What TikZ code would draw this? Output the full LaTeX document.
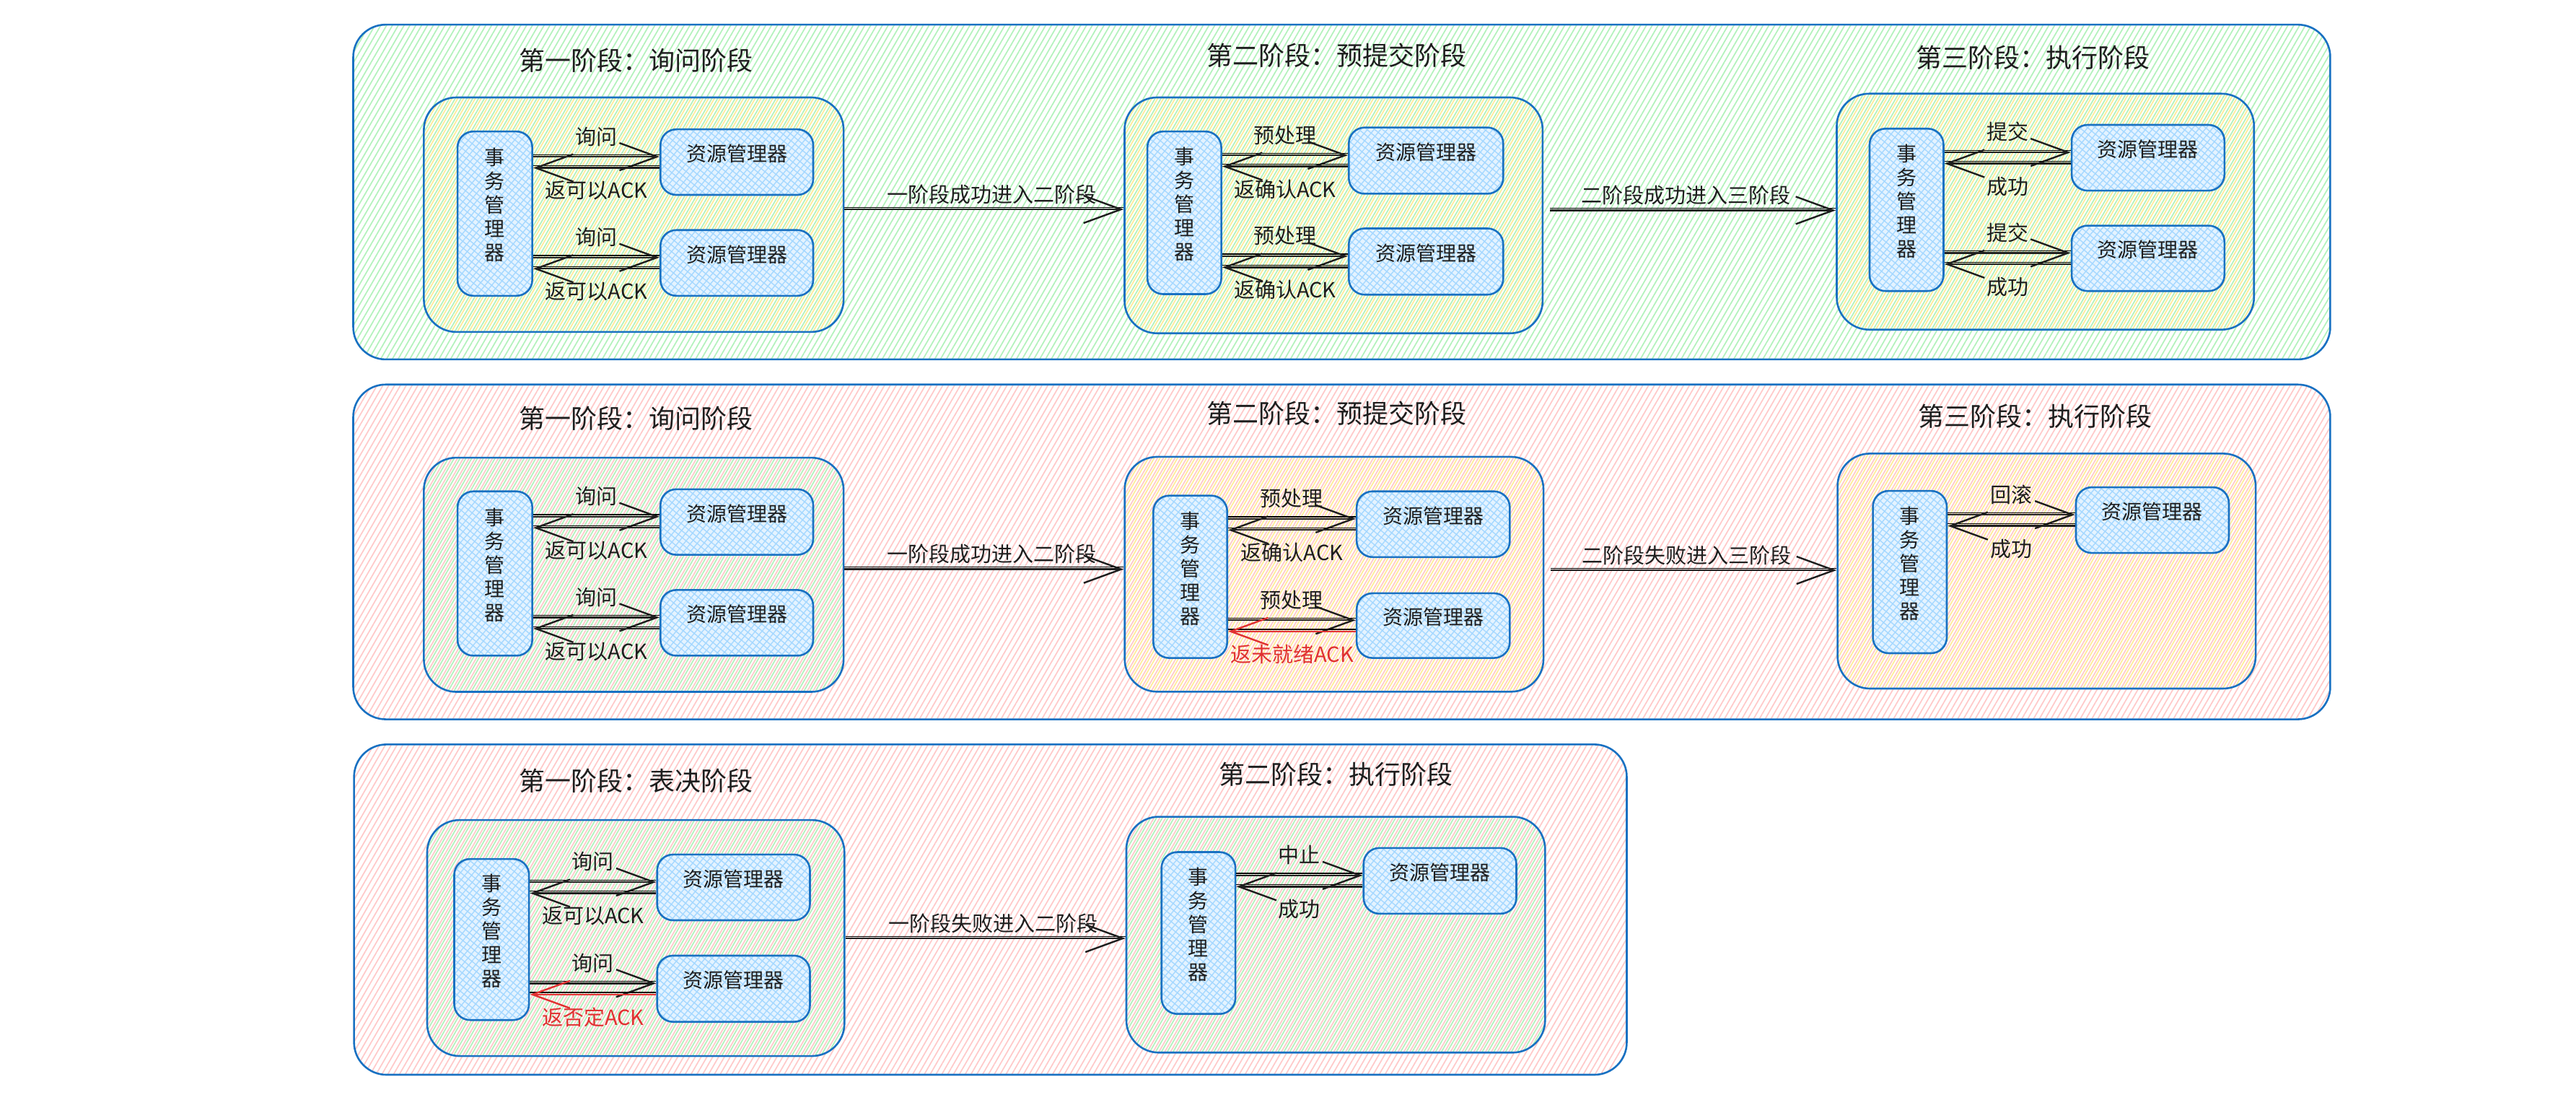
\documentclass[tikz,border=0pt]{standalone}
\usepackage{fontspec}
\setmainfont{Noto Sans CJK SC}
\usetikzlibrary{arrows.meta,patterns.meta,fit}
\definecolor{bblue}{HTML}{1971C2}
\definecolor{ink}{HTML}{1E1E1E}
\definecolor{redc}{HTML}{E03131}
\definecolor{hgreen}{HTML}{B2F2BB}
\definecolor{hpink}{HTML}{FFC9C9}
\definecolor{hyellow}{HTML}{FFEC99}
\definecolor{hblue}{HTML}{A5D8FF}
\tikzset{
 outerbox/.style={draw=bblue, line width=2.6pt, rounded corners=45pt, inner sep=0pt,
   preaction={fill=white},
   preaction={pattern={Lines[angle=60,distance=7pt,line width=1.7pt]}, pattern color=#1}},
 innerbox/.style={draw=bblue, line width=2.6pt, rounded corners=45pt, inner sep=0pt,
   preaction={pattern={Lines[angle=60,distance=7pt,line width=1.7pt,xshift=3.5pt]}, pattern color=#1}},
 unitbox/.style={draw=bblue, line width=2.6pt, rounded corners=22pt, inner sep=0pt,
   preaction={fill=hblue!30},
   preaction={pattern={Lines[angle=50,distance=7pt,line width=1.4pt]}, pattern color=hblue},
   preaction={pattern={Lines[angle=-40,distance=7pt,line width=1.4pt]}, pattern color=hblue},
   font=\fontsize{28}{33}\selectfont, text=ink, align=center},
 lbl/.style={font=\fontsize{29}{32}\selectfont, text=ink, inner sep=0pt},
 ttl/.style={font=\fontsize{36}{40}\selectfont, text=ink, inner sep=0pt},
 arr/.style={draw=ink, line width=2.4pt, -{Straight Barb[length=52pt,width=38pt]},
   preaction={draw, -, line width=1.2pt, transform canvas={yshift=2.8pt}}},
}
\newcommand\pairarrows[6]{%
 \coordinate (f#3) at ([yshift=7.5pt]#2.west);
 \coordinate (b#3) at ([yshift=-8pt]#2.west);
 \draw[arr] (#1.east |- f#3) -- (f#3) node[lbl, midway, above=13.5pt] (u#3) {#4};
 \draw[arr, draw=#6] (b#3) -- (#1.east |- b#3) node[lbl, midway, below=17pt, text=#6] (d#3) {#5};
}
\begin{document}
\begin{tikzpicture}[x=2.2768pt, y=-2.2768pt]
\useasboundingbox (0,0) rectangle (1568,669);

% ---------------- Row 1 ----------------
\node[outerbox=hgreen, fit={(215,15)(1418.4,218.7)}] (o1) {};
\node[ttl] (t11) at (387.3,36.6) {第一阶段：询问阶段};
\node[ttl] (t12) at (813.6,33.7) {第二阶段：预提交阶段};
\node[ttl] (t13) at (1237.5,35) {第三阶段：执行阶段};

\node[innerbox=hyellow, fit={(258,59.3)(513.5,202)}] (s11) {};
\node[innerbox=hyellow, fit={(684.5,59.3)(939,202.8)}] (s12) {};
\node[innerbox=hyellow, fit={(1118,57)(1372,200.6)}] (s13) {};

\node[unitbox, fit={(278.5,80)(324,180)}] (tm11) {事\\务\\管\\理\\器};
\node[unitbox, fit={(402,78.7)(495,118.6)}] (rm111) {资源管理器};
\node[unitbox, fit={(402,140)(495,180)}] (rm112) {资源管理器};

\node[unitbox, fit={(698.4,80)(743.4,179)}] (tm12) {事\\务\\管\\理\\器};
\node[unitbox, fit={(821,77.6)(915,117.9)}] (rm121) {资源管理器};
\node[unitbox, fit={(821,139)(915,179.3)}] (rm122) {资源管理器};

\node[unitbox, fit={(1138,78.3)(1183,177.1)}] (tm13) {事\\务\\管\\理\\器};
\node[unitbox, fit={(1261,76)(1354,116)}] (rm131) {资源管理器};
\node[unitbox, fit={(1261,137.3)(1354,177.1)}] (rm132) {资源管理器};

\pairarrows{tm11}{rm111}{a111}{询问}{返可以ACK}{ink}
\pairarrows{tm11}{rm112}{a112}{询问}{返可以ACK}{ink}
\pairarrows{tm12}{rm121}{a121}{预处理}{返确认ACK}{ink}
\pairarrows{tm12}{rm122}{a122}{预处理}{返确认ACK}{ink}
\pairarrows{tm13}{rm131}{a131}{提交}{成功}{ink}
\pairarrows{tm13}{rm132}{a132}{提交}{成功}{ink}

\coordinate (y11) at (600,127.4);
\coordinate (y12) at (1030,128);
\draw[arr] (s11.east |- y11) -- (s12.west |- y11) node[lbl, midway, above=6pt, xshift=11pt] (l11) {一阶段成功进入二阶段};
\draw[arr] ([xshift=9pt]s12.east |- y12) -- (s13.west |- y12) node[lbl, midway, above=6pt, xshift=-10pt] (l12) {二阶段成功进入三阶段};

% ---------------- Row 2 ----------------
\node[outerbox=hpink, fit={(215,234)(1418.4,437.7)}] (o2) {};
\node[ttl] (t21) at (387.3,254.5) {第一阶段：询问阶段};
\node[ttl] (t22) at (813.6,251.7) {第二阶段：预提交阶段};
\node[ttl] (t23) at (1238.6,253.3) {第三阶段：执行阶段};

\node[innerbox=hgreen, fit={(258,278.5)(513.5,421)}] (s21) {};
\node[innerbox=hyellow, fit={(684.6,278)(939.5,420.9)}] (s22) {};
\node[innerbox=hyellow, fit={(1118.5,276)(1373,419)}] (s23) {};

\node[unitbox, fit={(278.5,299)(324,399)}] (tm21) {事\\务\\管\\理\\器};
\node[unitbox, fit={(402,297.7)(495,337.6)}] (rm211) {资源管理器};
\node[unitbox, fit={(402,359)(495,399)}] (rm212) {资源管理器};

\node[unitbox, fit={(702,301.6)(747,400.4)}] (tm22) {事\\务\\管\\理\\器};
\node[unitbox, fit={(825.8,299)(919,339)}] (rm221) {资源管理器};
\node[unitbox, fit={(825.8,361)(919,400.4)}] (rm222) {资源管理器};

\node[unitbox, fit={(1140,298.7)(1185,397.5)}] (tm23) {事\\务\\管\\理\\器};
\node[unitbox, fit={(1263.6,296.5)(1356.7,336.5)}] (rm231) {资源管理器};

\pairarrows{tm21}{rm211}{a211}{询问}{返可以ACK}{ink}
\pairarrows{tm21}{rm212}{a212}{询问}{返可以ACK}{ink}
\pairarrows{tm22}{rm221}{a221}{预处理}{返确认ACK}{ink}
\pairarrows{tm22}{rm222}{a222}{预处理}{返未就绪ACK}{redc}
\pairarrows{tm23}{rm231}{a231}{回滚}{成功}{ink}

\coordinate (y21) at (600,346.4);
\coordinate (y22) at (1030,347);
\draw[arr] (s21.east |- y21) -- (s22.west |- y21) node[lbl, midway, above=6pt, xshift=11pt] (l21) {一阶段成功进入二阶段};
\draw[arr] ([xshift=9pt]s22.east |- y22) -- (s23.west |- y22) node[lbl, midway, above=6pt, xshift=-10pt] (l22) {二阶段失败进入三阶段};

% ---------------- Row 3 ----------------
\node[outerbox=hpink, fit={(215.5,453)(990.2,654)}] (o3) {};
\node[ttl] (t31) at (387.3,475) {第一阶段：表决阶段};
\node[ttl] (t32) at (813,471) {第二阶段：执行阶段};

\node[innerbox=hgreen, fit={(260,499)(514,642.6)}] (s31) {};
\node[innerbox=hgreen, fit={(685.6,497)(940.5,640.5)}] (s32) {};

\node[unitbox, fit={(276.5,522.7)(322,620.7)}] (tm31) {事\\务\\管\\理\\器};
\node[unitbox, fit={(400,520)(493,560)}] (rm311) {资源管理器};
\node[unitbox, fit={(400,581.5)(493,621.8)}] (rm312) {资源管理器};

\node[unitbox, fit={(707,518.5)(752,617)}] (tm32) {事\\务\\管\\理\\器};
\node[unitbox, fit={(830,516)(923,556)}] (rm321) {资源管理器};

\pairarrows{tm31}{rm311}{a311}{询问}{返可以ACK}{ink}
\pairarrows{tm31}{rm312}{a312}{询问}{返否定ACK}{redc}
\pairarrows{tm32}{rm321}{a321}{中止}{成功}{ink}

\coordinate (y31) at (600,571);
\draw[arr] (s31.east |- y31) -- (s32.west |- y31) node[lbl, midway, above=6pt, xshift=11pt] (l31) {一阶段失败进入二阶段};
\end{tikzpicture}
\end{document}
